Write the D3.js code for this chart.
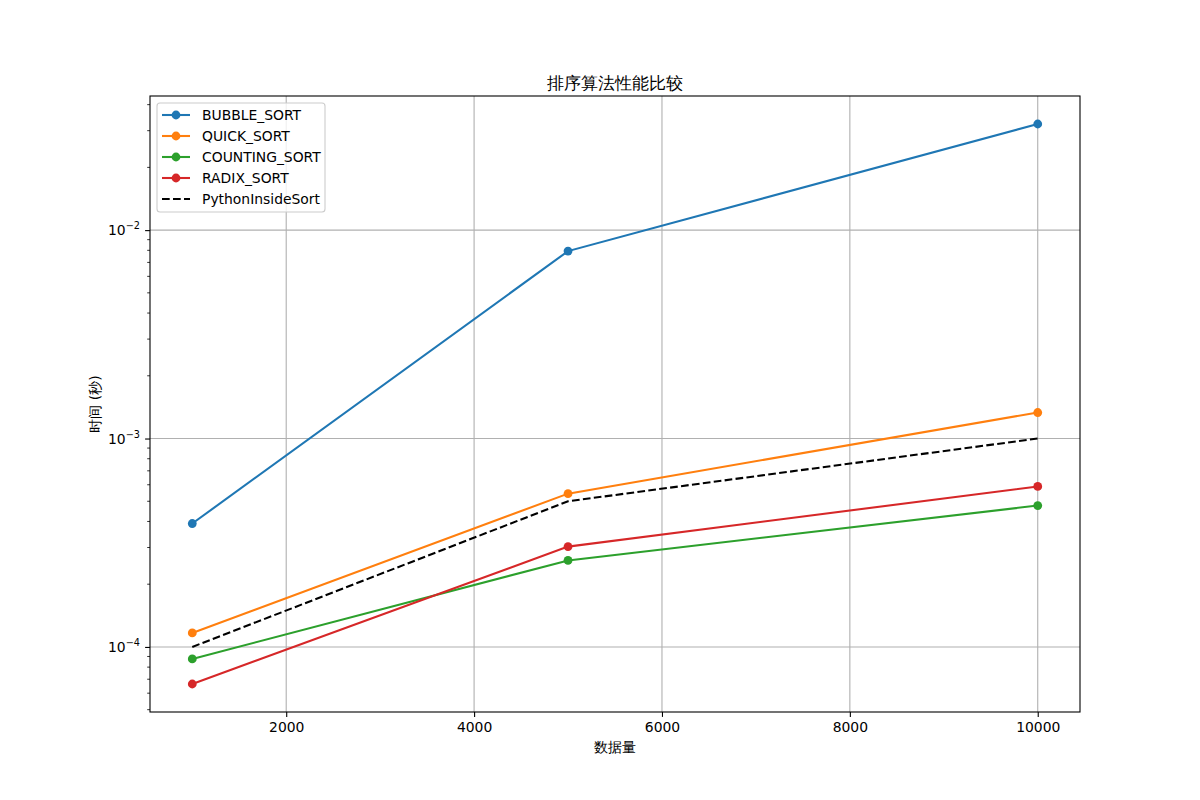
<!DOCTYPE html>
<html><head><meta charset="utf-8">
<script src="https://cdn.jsdelivr.net/npm/d3@7"></script>
<style>body{margin:0;background:#fff}svg{display:block}text{font-family:"DejaVu Sans",sans-serif}</style>
</head><body>
<svg id="c" width="1200" height="800"></svg>
<script>
const sizes = [1000, 5000, 10000];
const bubbleSort = [3.91e-4, 7.93e-3, 3.23e-2];
const quickSort = [1.167e-4, 5.44e-4, 1.333e-3];
const countingSort = [8.76e-5, 2.60e-4, 4.77e-4];
const radixSort = [6.64e-5, 3.03e-4, 5.89e-4];
const pythonSort = [1e-4, 5e-4, 1e-3];
const seriesNames = ["BUBBLE_SORT", "QUICK_SORT", "COUNTING_SORT", "RADIX_SORT", "PythonInsideSort"];
const xTicks = [2000, 4000, 6000, 8000, 10000];
const yTicks = [1e-4, 1e-3, 1e-2];
const titleText = "排序算法性能比较";
const xLabel = "数据量";
const yLabel = "时间 (秒)";

const series = [
  {name: seriesNames[0], values: bubbleSort, color: "#1f77b4", marker: true},
  {name: seriesNames[1], values: quickSort, color: "#ff7f0e", marker: true},
  {name: seriesNames[2], values: countingSort, color: "#2ca02c", marker: true},
  {name: seriesNames[3], values: radixSort, color: "#d62728", marker: true},
  {name: seriesNames[4], values: pythonSort, color: "#000000", marker: false, dash: "7.7,3.3"}
];

const L = 150, R = 1080, T = 96, B = 712;
const svg = d3.select("#c");

const allY = series.flatMap(s => s.values);
const lmin = Math.log10(d3.min(allY)), lmax = Math.log10(d3.max(allY));
const lpad = (lmax - lmin) * 0.05;
const y = d3.scaleLog().domain([Math.pow(10, lmin - lpad), Math.pow(10, lmax + lpad)]).range([B, T]);
const xmin = d3.min(sizes), xmax = d3.max(sizes), xpad = (xmax - xmin) * 0.05;
const x = d3.scaleLinear().domain([xmin - xpad, xmax + xpad]).range([L, R]);

// grid
const g = svg.append("g");
g.selectAll(".gx").data(xTicks).enter().append("line")
  .attr("x1", d => x(d)).attr("x2", d => x(d)).attr("y1", T).attr("y2", B)
  .attr("stroke", "#b0b0b0").attr("stroke-width", 1.1);
g.selectAll(".gy").data(yTicks).enter().append("line")
  .attr("y1", d => y(d)).attr("y2", d => y(d)).attr("x1", L).attr("x2", R)
  .attr("stroke", "#b0b0b0").attr("stroke-width", 1.1);

// axes
const xAxis = d3.axisBottom(x).tickValues(xTicks).tickFormat(d3.format("d")).tickSize(4.9).tickPadding(4.9);
const gx = svg.append("g").attr("transform", `translate(0,${B})`).call(xAxis);
gx.select(".domain").remove();
gx.selectAll("line").attr("stroke", "#000").attr("stroke-width", 1.1);
gx.selectAll("text").attr("font-size", 13.9).attr("fill", "#000").attr("font-family", "DejaVu Sans");

// minor y ticks
const [d0, d1] = y.domain();
const minors = [];
for (let e = Math.floor(Math.log10(d0)); e <= Math.ceil(Math.log10(d1)); e++) {
  for (let m = 2; m <= 9; m++) { const v = m * Math.pow(10, e); if (v >= d0 && v <= d1) minors.push(v); }
}
svg.append("g").selectAll("line").data(minors).enter().append("line")
  .attr("x1", L - 2.8).attr("x2", L).attr("y1", d => y(d)).attr("y2", d => y(d))
  .attr("stroke", "#000").attr("stroke-width", 0.8);

const yAxis = d3.axisLeft(y).tickValues(yTicks).tickFormat("").tickSize(4.9);
const gy = svg.append("g").attr("transform", `translate(${L},0)`).call(yAxis);
gy.select(".domain").remove();
gy.selectAll("line").attr("stroke", "#000").attr("stroke-width", 1.1);
const ylab = svg.append("g").selectAll("text").data(yTicks).enter().append("text")
  .attr("x", L - 10).attr("y", d => y(d) + 5).attr("text-anchor", "end")
  .attr("font-size", 13.9).attr("fill", "#000");
ylab.append("tspan").text("10");
ylab.append("tspan").attr("dy", -6).attr("font-size", 9.7).text(d => "\u2212" + Math.round(-Math.log10(d)));

// spines
svg.append("rect").attr("x", L).attr("y", T).attr("width", R - L).attr("height", B - T)
  .attr("fill", "none").attr("stroke", "#000").attr("stroke-width", 1.1);

// lines
const line = d3.line().x((d, i) => x(sizes[i])).y(d => y(d));
const pg = svg.append("g");
series.forEach(s => {
  pg.append("path").datum(s.values).attr("d", line).attr("fill", "none")
    .attr("stroke", s.color).attr("stroke-width", 2.08)
    .attr("stroke-dasharray", s.dash || null);
  if (s.marker) {
    pg.selectAll(null).data(s.values).enter().append("circle")
      .attr("cx", (d, i) => x(sizes[i])).attr("cy", d => y(d)).attr("r", 4.4).attr("fill", s.color);
  }
});

// legend
const lg = svg.append("g");
lg.append("rect").attr("x", 157).attr("y", 103).attr("width", 168).attr("height", 109)
  .attr("rx", 3).attr("fill", "#fff").attr("fill-opacity", 0.8).attr("stroke", "#cccccc").attr("stroke-width", 1.1);
series.forEach((s, i) => {
  const yy = 115 + i * 21;
  lg.append("line").attr("x1", 162).attr("x2", 190).attr("y1", yy).attr("y2", yy)
    .attr("stroke", s.color).attr("stroke-width", 2.08).attr("stroke-dasharray", s.dash || null);
  if (s.marker) lg.append("circle").attr("cx", 176).attr("cy", yy).attr("r", 4.4).attr("fill", s.color);
  lg.append("text").attr("x", 202).attr("y", yy + 5).attr("font-size", 13.9).attr("fill", "#000").text(s.name);
});

// title and labels
svg.append("text").attr("x", (L + R) / 2).attr("y", 89).attr("text-anchor", "middle")
  .attr("font-size", 16.7).attr("font-family", "Noto Sans CJK SC, DejaVu Sans").attr("fill", "#000").text(titleText);
svg.append("text").attr("x", (L + R) / 2).attr("y", 752).attr("text-anchor", "middle")
  .attr("font-size", 13.9).attr("font-family", "Noto Sans CJK SC, DejaVu Sans").attr("fill", "#000").text(xLabel);
svg.append("text").attr("transform", `translate(100,${(T + B) / 2}) rotate(-90)`).attr("text-anchor", "middle")
  .attr("font-size", 13.9).attr("font-family", "Noto Sans CJK SC, DejaVu Sans").attr("fill", "#000").text(yLabel);
</script>
</body></html>
